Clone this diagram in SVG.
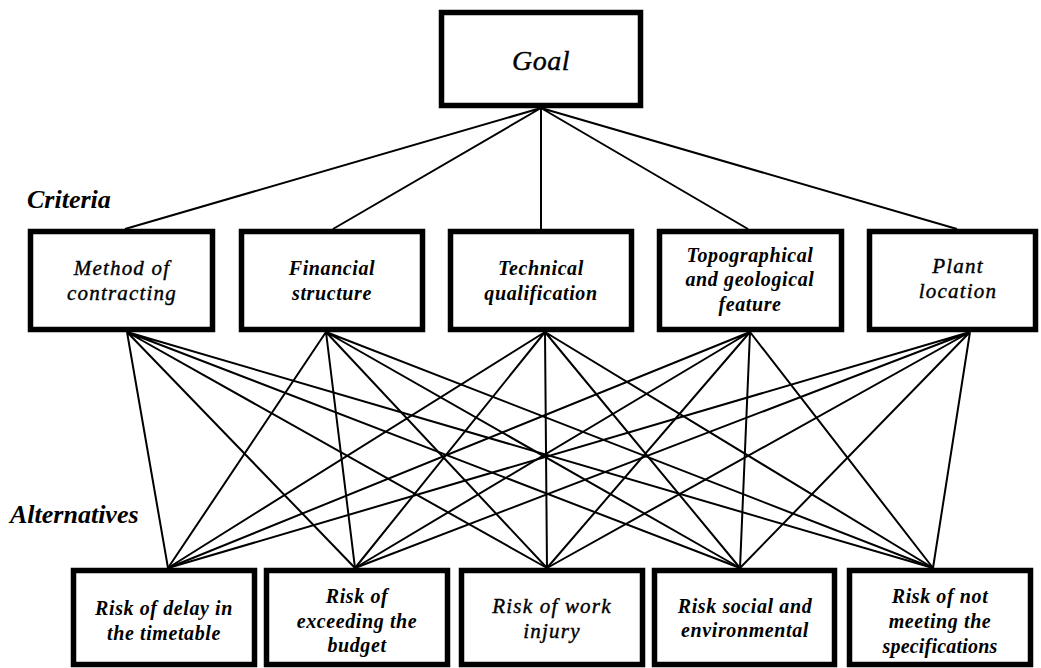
<svg xmlns="http://www.w3.org/2000/svg" width="1041" height="668" viewBox="0 0 1041 668">
<style>
.box{fill:#fff;stroke:#000;stroke-width:5.5}
.ln{stroke:#000;stroke-width:2;fill:none}
text{font-family:'Liberation Serif','Times New Roman',Times,serif;font-style:italic;fill:#000;text-anchor:middle}
.b{font-weight:bold;font-size:20px;letter-spacing:0.6px}
.r{font-size:21px;letter-spacing:1.2px;stroke:#000;stroke-width:0.4}
.g{font-size:28px;letter-spacing:0.5px;stroke:#000;stroke-width:0.4}
.lab{font-weight:bold;font-size:26px;text-anchor:start}
</style>
<rect width="1041" height="668" fill="#fff"/>
<g id="connectors">
<path class="ln" d="M541,108L125,229M541,108L333,229M541,108L541,229M541,108L748,229M541,108L957,229"/>
<path class="ln" d="M127,332L168,568M127,332L355,568M127,332L547,568M127,332L740,568M127,332L933,568"/>
<path class="ln" d="M326,332L168,568M326,332L355,568M326,332L547,568M326,332L740,568M326,332L933,568"/>
<path class="ln" d="M545,332L168,568M545,332L355,568M545,332L547,568M545,332L740,568M545,332L933,568"/>
<path class="ln" d="M750,332L168,568M750,332L355,568M750,332L547,568M750,332L740,568M750,332L933,568"/>
<path class="ln" d="M970,332L168,568M970,332L355,568M970,332L547,568M970,332L740,568M970,332L933,568"/>
</g>
<g id="labels">
<text class="lab" x="27" y="208">Criteria</text>
<text class="lab" x="10" y="523">Alternatives</text>
</g>
<g id="goal">
<rect class="box" x="441.5" y="12.5" width="199" height="93"/>
<text class="g" x="541" y="70">Goal</text>
</g>
<g id="c1">
<rect class="box" x="30.5" y="231.5" width="182" height="98"/>
<text class="r" x="122" y="275">Method of</text>
<text class="r" x="122" y="300">contracting</text>
</g>
<g id="c2">
<rect class="box" x="241.5" y="231.5" width="181" height="98"/>
<text class="b" x="332" y="275">Financial</text>
<text class="b" x="332" y="300">structure</text>
</g>
<g id="c3">
<rect class="box" x="450.5" y="231.5" width="181" height="98"/>
<text class="b" x="541" y="275">Technical</text>
<text class="b" x="541" y="300">qualification</text>
</g>
<g id="c4">
<rect class="box" x="659.5" y="231.5" width="182" height="98"/>
<text class="b" x="750" y="262">Topographical</text>
<text class="b" x="750" y="286">and geological</text>
<text class="b" x="750" y="311">feature</text>
</g>
<g id="c5">
<rect class="box" x="869.5" y="231.5" width="166" height="98"/>
<text class="r" x="958" y="273">Plant</text>
<text class="r" x="958" y="298">location</text>
</g>
<g id="a1">
<rect class="box" x="73.5" y="570.5" width="181" height="94"/>
<text class="b" x="164" y="615">Risk of delay in</text>
<text class="b" x="164" y="640">the timetable</text>
</g>
<g id="a2">
<rect class="box" x="266.5" y="570.5" width="181" height="94"/>
<text class="b" x="357" y="603">Risk of</text>
<text class="b" x="357" y="628">exceeding the</text>
<text class="b" x="357" y="652">budget</text>
</g>
<g id="a3">
<rect class="box" x="461.5" y="570.5" width="181" height="94"/>
<text class="r" x="552" y="613">Risk of work</text>
<text class="r" x="552" y="638">injury</text>
</g>
<g id="a4">
<rect class="box" x="654.5" y="570.5" width="180" height="94"/>
<text class="b" x="745" y="613">Risk social and</text>
<text class="b" x="745" y="637">environmental</text>
</g>
<g id="a5">
<rect class="box" x="849.5" y="570.5" width="181" height="94"/>
<text class="b" x="940" y="603">Risk of not</text>
<text class="b" x="940" y="628">meeting the</text>
<text class="b" x="940" y="653" style="letter-spacing:0.2px">specifications</text>
</g>
</svg>
